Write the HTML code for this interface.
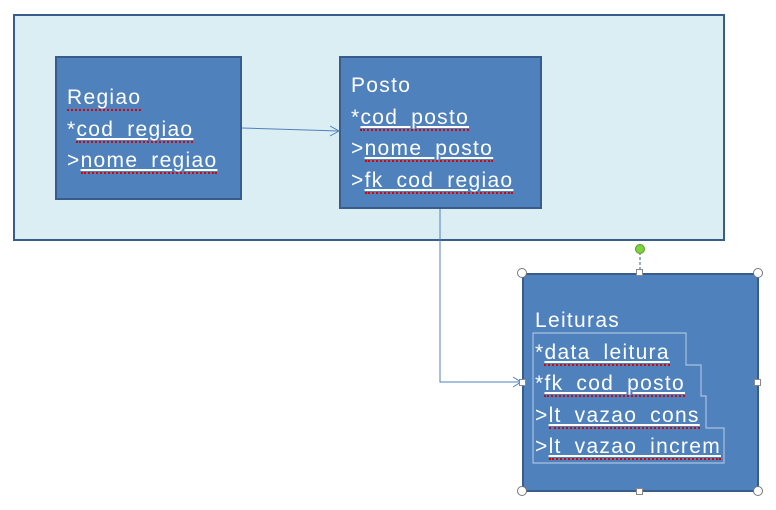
<!DOCTYPE html>
<html><head><meta charset="utf-8"><style>
html,body{margin:0;padding:0;background:#fff;}
body{width:776px;height:510px;position:relative;overflow:hidden;font-family:"Liberation Sans",sans-serif;}
.box{position:absolute;box-sizing:border-box;background:#4f81bd;border:2px solid #385d8a;}
.t{position:absolute;color:#fff;font-size:21px;letter-spacing:1.3px;line-height:31.5px;white-space:nowrap;}
.u{text-decoration:underline;text-decoration-color:#fff;border-bottom:2px dotted #e00000;}
.h{position:absolute;width:7px;height:7px;background:#fff;border:1px solid #888;box-sizing:border-box;}
.c{position:absolute;width:10px;height:10px;border-radius:50%;background:#fff;border:1px solid #777;box-sizing:border-box;}
</style></head><body>
<div class="box" style="left:13px;top:14px;width:712px;height:227px;background:#dbeef4;border:2.5px solid #385d8a;"></div>
<div class="box" style="left:55px;top:56px;width:187px;height:144px;"></div>
<div class="t" style="left:67px;top:82px;"><span class="u" style="text-decoration:none">Regiao</span><br>*<span class="u">cod_regiao</span><br>&gt;<span class="u">nome_regiao</span></div>
<div class="box" style="left:339px;top:56px;width:203px;height:153px;"></div>
<div class="t" style="left:351px;top:70px;">Posto<br>*<span class="u">cod_posto</span><br>&gt;<span class="u">nome_posto</span><br>&gt;<span class="u">fk_cod_regiao</span></div>
<div class="box" style="left:522px;top:273px;width:237px;height:219px;"></div>
<svg style="position:absolute;left:0;top:0" width="776" height="510">
<path d="M533,333 H686 V365 H701 V396 H706 V428 H724 V463 H533 Z" fill="none" stroke="#a9c1e0" stroke-width="1.2"/>
<line x1="242" y1="128" x2="339" y2="131" stroke="#4f81bd" stroke-width="1"/>
<polyline points="330,126 339,131 330,136" fill="none" stroke="#4f81bd" stroke-width="1"/>
<polyline points="440,209 440,382 521,382" fill="none" stroke="#4f81bd" stroke-width="1"/>
<polyline points="513,377 521,382 513,387" fill="none" stroke="#4f81bd" stroke-width="1"/>
<line x1="640" y1="252" x2="640" y2="272" stroke="#385d8a" stroke-dasharray="3,2"/>
<circle cx="640" cy="249" r="4.5" fill="#7ed23a" stroke="#5a9a2a"/>
</svg>
<div class="t" style="left:535px;top:305px;">Leituras<br>*<span class="u">data_leitura</span><br>*<span class="u">fk_cod_posto</span><br>&gt;<span class="u">lt_vazao_cons</span><br>&gt;<span class="u">lt_vazao_increm</span></div>
<div class="c" style="left:517px;top:268px"></div><div class="c" style="left:753px;top:268px"></div>
<div class="c" style="left:517px;top:486px"></div><div class="c" style="left:753px;top:486px"></div>
<div class="h" style="left:636px;top:269px"></div><div class="h" style="left:636px;top:488px"></div>
<div class="h" style="left:519px;top:379px"></div><div class="h" style="left:754px;top:379px"></div>
</body></html>
